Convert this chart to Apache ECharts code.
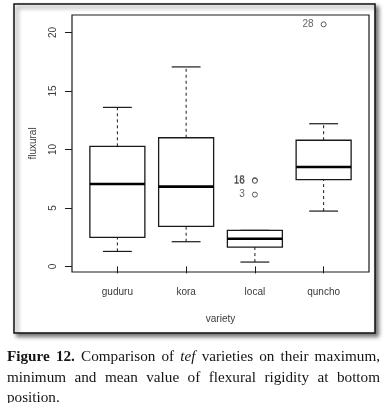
<!DOCTYPE html>
<html>
<head>
<meta charset="utf-8">
<script src="https://cdn.jsdelivr.net/npm/echarts@6/dist/echarts.min.js"></script>
<style>
  html, body { margin: 0; padding: 0; background: #fff; }
  #wrap { position: relative; width: 385px; height: 403px; overflow: hidden; }
  #chart { position: absolute; left: 0; top: 0; width: 385px; height: 403px; }
  #caption { position: absolute; left: 7px; top: 346px; width: 373px;
    font-family: "Liberation Serif", "DejaVu Serif", serif; font-size: 15.2px; line-height: 20.5px; color: #141414; }
  #caption .j2 { text-align: justify; text-align-last: justify; }
</style>
</head>
<body>
<div id="wrap">
  <div id="chart"></div>
  <div id="caption">
    <div class="j2"><b>Figure 12.</b> Comparison of <i>tef</i> varieties on their maximum,</div>
    <div class="j2">minimum and mean value of flexural rigidity at bottom</div>
    <div>position.</div>
  </div>
</div>
<script>
// ---- data ----
const categories = ['guduru', 'kora', 'local', 'quncho'];
const lowerWhisker = [1.28, 2.11, 0.37, 4.73];
const q1Values = [2.48, 3.42, 1.65, 7.42];
const medianValues = [7.05, 6.82, 2.37, 8.50];
const q3Values = [10.27, 11.00, 3.08, 10.79];
const upperWhisker = [13.60, 17.06, 3.08, 12.20];
const outlierCats = ['local', 'local', 'local', 'quncho'];
const outlierValues = [7.38, 7.32, 6.14, 20.70];
const outlierLabels = ['18', '16', '3', '28'];
const yTicks = [0, 5, 10, 15, 20];

const boxData = categories.map((c, i) => [i, lowerWhisker[i], q1Values[i], medianValues[i], q3Values[i], upperWhisker[i]]);
const outlierData = outlierValues.map((v, i) => ({ value: [categories.indexOf(outlierCats[i]), v], name: outlierLabels[i] }));

const chart = echarts.init(document.getElementById('chart'), null, { renderer: 'canvas' });
const FONT = '"Liberation Sans", Arial, sans-serif';
const TXT = '#3a3a3a';
const LINE = '#1a1a1a';

chart.setOption({
  backgroundColor: '#ffffff',
  animation: false,
  graphic: [
    { type: 'rect', z: -10, shape: { x: 14, y: 4, width: 361, height: 329 },
      style: { fill: '#fff', stroke: '#111', lineWidth: 1.5, shadowBlur: 4, shadowOffsetX: 3, shadowOffsetY: 3, shadowColor: 'rgba(0,0,0,0.55)' } },
    { type: 'rect', z: 50, shape: { x: 72, y: 15, width: 297, height: 257 },
      style: { fill: 'none', stroke: LINE, lineWidth: 1.2 } }
  ],
  grid: { left: 83, right: 27, top: 15, bottom: 131, containLabel: false },
  xAxis: {
    type: 'category', data: categories,
    axisLine: { show: false },
    axisTick: { show: true, alignWithLabel: true, length: 7, lineStyle: { color: LINE, width: 1 } },
    axisLabel: { margin: 15, fontSize: 10, color: TXT, fontFamily: FONT },
    splitLine: { show: false },
    name: 'variety', nameLocation: 'middle', nameGap: 42,
    nameTextStyle: { fontSize: 10, color: TXT, fontFamily: FONT }
  },
  yAxis: {
    type: 'value', min: -0.48, max: 21.5, offset: 11,
    axisLine: { show: false },
    axisTick: { show: true, length: 7, customValues: yTicks, lineStyle: { color: LINE, width: 1 } },
    axisLabel: { customValues: yTicks, rotate: 90, margin: 14, fontSize: 10, color: TXT, fontFamily: FONT },
    splitLine: { show: false },
    name: 'fluxural', nameLocation: 'middle', nameGap: 34,
    nameTextStyle: { fontSize: 10, color: TXT, fontFamily: FONT }
  },
  series: [
    {
      type: 'custom',
      data: boxData,
      encode: { x: 0, y: [1, 2, 3, 4, 5] },
      renderItem: function (params, api) {
        const x = api.value(0);
        const band = api.size([1, 0])[0];
        const half = band * 0.4;
        const cap = band * 0.21;
        const lo = api.coord([x, api.value(1)]);
        const q1 = api.coord([x, api.value(2)]);
        const md = api.coord([x, api.value(3)]);
        const q3 = api.coord([x, api.value(4)]);
        const hi = api.coord([x, api.value(5)]);
        const cx = lo[0];
        const dash = { stroke: LINE, lineWidth: 1, lineDash: [3, 3] };
        const solid = { stroke: LINE, lineWidth: 1.2 };
        return {
          type: 'group',
          children: [
            { type: 'line', shape: { x1: cx, y1: lo[1], x2: cx, y2: q1[1] }, style: dash },
            { type: 'line', shape: { x1: cx, y1: q3[1], x2: cx, y2: hi[1] }, style: dash },
            { type: 'line', shape: { x1: cx - cap, y1: lo[1], x2: cx + cap, y2: lo[1] }, style: solid },
            { type: 'line', shape: { x1: cx - cap, y1: hi[1], x2: cx + cap, y2: hi[1] }, style: solid },
            { type: 'rect', shape: { x: cx - half, y: q3[1], width: half * 2, height: q1[1] - q3[1] },
              style: { fill: '#fff', stroke: LINE, lineWidth: 1.3 } },
            { type: 'line', shape: { x1: cx - half, y1: md[1], x2: cx + half, y2: md[1] },
              style: { stroke: '#000', lineWidth: 2.6 } }
          ]
        };
      }
    },
    {
      type: 'scatter',
      data: outlierData,
      symbol: 'circle', symbolSize: 5,
      itemStyle: { color: '#fff', borderColor: '#333', borderWidth: 1 },
      label: { show: true, position: 'left', distance: 7, formatter: p => p.name,
        fontSize: 10, color: TXT, fontFamily: FONT },
      z: 5
    }
  ]
});
</script>
</body>
</html>
